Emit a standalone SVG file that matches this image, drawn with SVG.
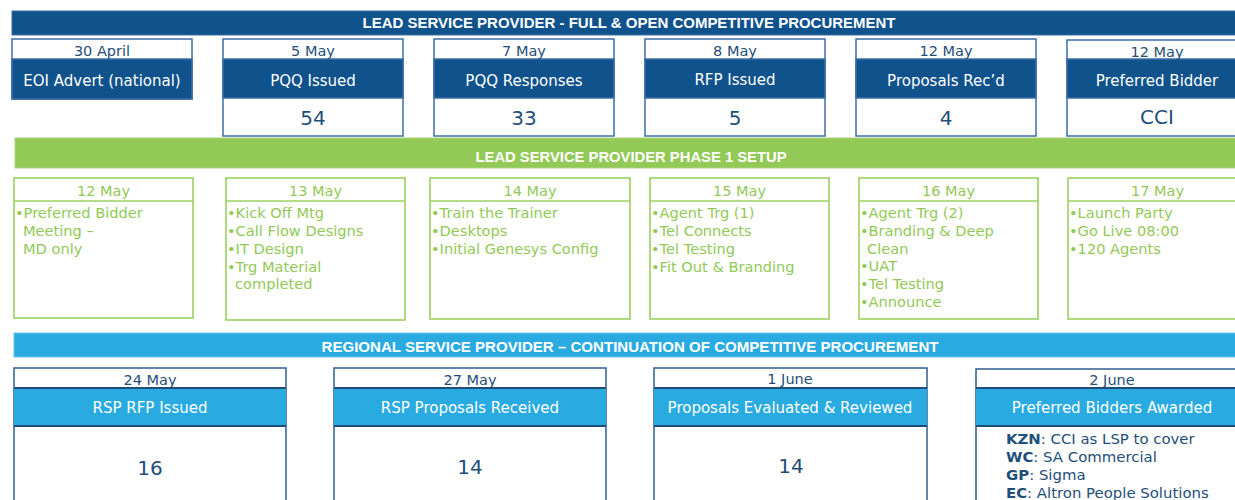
<svg xmlns="http://www.w3.org/2000/svg" width="1235" height="500" viewBox="0 0 1235 500">
  <style>
    .bg { fill: #ffffff; }
    .band-text { font-family: "Liberation Sans", Arial, sans-serif; font-weight: bold; font-size: 14px; fill: #ffffff; text-anchor: middle; }
    .t { font-family: "DejaVu Sans", Verdana, sans-serif; }
    /* lead procurement row */
    .lp-box { fill: #ffffff; stroke: #3d6ea6; stroke-width: 1.5; }
    .lp-hdr { fill: #10528c; stroke: #3d6ea6; stroke-width: 1.5; }
    .lp-date { font-size: 14.5px; fill: #1f4e79; text-anchor: middle; }
    .lp-title { font-size: 15px; fill: #ffffff; text-anchor: middle; }
    .lp-num { font-size: 20px; fill: #1f4e79; text-anchor: middle; }
    /* setup row */
    .su-box { fill: #ffffff; stroke: #9bd062; stroke-width: 1.6; }
    .su-date { font-size: 14.5px; fill: #92c957; text-anchor: middle; }
    .su-list { font-size: 14.6px; fill: #92c957; }
    /* regional row */
    .rp-box { fill: #ffffff; stroke: #2f5d93; stroke-width: 1.5; }
    .rp-hdr { fill: #29abe2; }
    .rp-rule { stroke: #1f4e79; stroke-width: 2; }
    .rp-date { font-size: 14.5px; fill: #1f4e79; text-anchor: middle; }
    .rp-title { font-size: 15px; fill: #ffffff; text-anchor: middle; }
    .rp-num { font-size: 20px; fill: #1f4e79; text-anchor: middle; }
    .rp-list { font-size: 14.9px; fill: #1f4e79; }
    .b { font-weight: bold; }
  </style>

  <rect class="bg" x="0" y="0" width="1235" height="500"/>

  <!-- ===== Lead service provider: procurement ===== -->
  <g id="band-lead-procurement">
    <rect x="12" y="11" width="1230" height="24" fill="#10528c" stroke="#3d6ea6" stroke-width="1"/>
    <text class="band-text" x="629" y="28" textLength="533" lengthAdjust="spacingAndGlyphs">LEAD SERVICE PROVIDER - FULL &amp; OPEN COMPETITIVE PROCUREMENT</text>
  </g>

  <g id="eoi-advert" class="t">
    <rect class="lp-box" x="12" y="39" width="180" height="60"/>
    <rect class="lp-hdr" x="12" y="59" width="180" height="40"/>
    <text class="lp-date" x="102" y="56">30 April</text>
    <text class="lp-title" x="102" y="86">EOI Advert (national)</text>
  </g>

  <g id="pqq-issued" class="t">
    <rect class="lp-box" x="223" y="39" width="180" height="97"/>
    <rect class="lp-hdr" x="223" y="59" width="180" height="39"/>
    <text class="lp-date" x="313" y="56">5 May</text>
    <text class="lp-title" x="313" y="86">PQQ Issued</text>
    <text class="lp-num" x="313" y="125">54</text>
  </g>

  <g id="pqq-responses" class="t">
    <rect class="lp-box" x="434" y="39" width="180" height="97"/>
    <rect class="lp-hdr" x="434" y="59" width="180" height="39"/>
    <text class="lp-date" x="524" y="56">7 May</text>
    <text class="lp-title" x="524" y="86">PQQ Responses</text>
    <text class="lp-num" x="524" y="125">33</text>
  </g>

  <g id="rfp-issued" class="t">
    <rect class="lp-box" x="645" y="39" width="180" height="97"/>
    <rect class="lp-hdr" x="645" y="59" width="180" height="39"/>
    <text class="lp-date" x="735" y="56">8 May</text>
    <text class="lp-title" x="735" y="85">RFP Issued</text>
    <text class="lp-num" x="735" y="125">5</text>
  </g>

  <g id="proposals-recd" class="t">
    <rect class="lp-box" x="856" y="39" width="180" height="97"/>
    <rect class="lp-hdr" x="856" y="59" width="180" height="39"/>
    <text class="lp-date" x="946" y="56">12 May</text>
    <text class="lp-title" x="946" y="86">Proposals Rec’d</text>
    <text class="lp-num" x="946" y="125">4</text>
  </g>

  <g id="preferred-bidder" class="t">
    <rect class="lp-box" x="1067" y="40" width="180" height="96"/>
    <rect class="lp-hdr" x="1067" y="59" width="180" height="39"/>
    <text class="lp-date" x="1157" y="57">12 May</text>
    <text class="lp-title" x="1157" y="86">Preferred Bidder</text>
    <text class="lp-num" x="1157" y="124">CCI</text>
  </g>

  <!-- ===== Lead service provider: phase 1 setup ===== -->
  <g id="band-phase1-setup">
    <rect x="15" y="138" width="1225" height="30" fill="#92c957" stroke="#a9d57a" stroke-width="1"/>
    <text class="band-text" x="631" y="162" textLength="311" lengthAdjust="spacingAndGlyphs">LEAD SERVICE PROVIDER PHASE 1 SETUP</text>
  </g>

  <g id="setup-12-may" class="t">
    <rect class="su-box" x="14" y="178" width="179" height="140"/>
    <line class="su-box" x1="14" y1="201" x2="193" y2="201"/>
    <text class="su-date" x="103.5" y="196">12 May</text>
    <text class="su-list">
      <tspan x="15" y="218">•Preferred Bidder</tspan>
      <tspan x="23" y="236">Meeting –</tspan>
      <tspan x="23" y="254">MD only</tspan>
    </text>
  </g>

  <g id="setup-13-may" class="t">
    <rect class="su-box" x="226" y="178" width="179" height="142"/>
    <line class="su-box" x1="226" y1="201" x2="405" y2="201"/>
    <text class="su-date" x="315.5" y="196">13 May</text>
    <text class="su-list">
      <tspan x="227" y="218">•Kick Off Mtg</tspan>
      <tspan x="227" y="236">•Call Flow Designs</tspan>
      <tspan x="227" y="254">•IT Design</tspan>
      <tspan x="227" y="272">•Trg Material</tspan>
      <tspan x="235" y="289">completed</tspan>
    </text>
  </g>

  <g id="setup-14-may" class="t">
    <rect class="su-box" x="430" y="178" width="200" height="141"/>
    <line class="su-box" x1="430" y1="201" x2="630" y2="201"/>
    <text class="su-date" x="530" y="196">14 May</text>
    <text class="su-list">
      <tspan x="431" y="218">•Train the Trainer</tspan>
      <tspan x="431" y="236">•Desktops</tspan>
      <tspan x="431" y="254">•Initial Genesys Config</tspan>
    </text>
  </g>

  <g id="setup-15-may" class="t">
    <rect class="su-box" x="650" y="178" width="179" height="141"/>
    <line class="su-box" x1="650" y1="201" x2="829" y2="201"/>
    <text class="su-date" x="739.5" y="196">15 May</text>
    <text class="su-list">
      <tspan x="651" y="218">•Agent Trg (1)</tspan>
      <tspan x="651" y="236">•Tel Connects</tspan>
      <tspan x="651" y="254">•Tel Testing</tspan>
      <tspan x="651" y="272">•Fit Out &amp; Branding</tspan>
    </text>
  </g>

  <g id="setup-16-may" class="t">
    <rect class="su-box" x="859" y="178" width="179" height="141"/>
    <line class="su-box" x1="859" y1="201" x2="1038" y2="201"/>
    <text class="su-date" x="948.5" y="196">16 May</text>
    <text class="su-list">
      <tspan x="860" y="218">•Agent Trg (2)</tspan>
      <tspan x="860" y="236">•Branding &amp; Deep</tspan>
      <tspan x="867" y="254">Clean</tspan>
      <tspan x="860" y="271">•UAT</tspan>
      <tspan x="860" y="289">•Tel Testing</tspan>
      <tspan x="860" y="307">•Announce</tspan>
    </text>
  </g>

  <g id="setup-17-may" class="t">
    <rect class="su-box" x="1068" y="178" width="179" height="141"/>
    <line class="su-box" x1="1068" y1="201" x2="1247" y2="201"/>
    <text class="su-date" x="1157.5" y="196">17 May</text>
    <text class="su-list">
      <tspan x="1069" y="218">•Launch Party</tspan>
      <tspan x="1069" y="236">•Go Live 08:00</tspan>
      <tspan x="1069" y="254">•120 Agents</tspan>
    </text>
  </g>

  <!-- ===== Regional service provider ===== -->
  <g id="band-regional">
    <rect x="14" y="333" width="1226" height="24" fill="#29abe2" stroke="#6cc4ea" stroke-width="1"/>
    <text class="band-text" x="630" y="352" textLength="617" lengthAdjust="spacingAndGlyphs">REGIONAL SERVICE PROVIDER – CONTINUATION OF COMPETITIVE PROCUREMENT</text>
  </g>

  <g id="rsp-rfp-issued" class="t">
    <rect class="rp-box" x="14" y="368" width="272" height="140"/>
    <rect class="rp-hdr" x="14" y="388" width="272" height="38"/>
    <line class="rp-rule" x1="14" y1="388" x2="286" y2="388"/>
    <line class="rp-rule" x1="14" y1="426" x2="286" y2="426"/>
    <text class="rp-date" x="150" y="385">24 May</text>
    <text class="rp-title" x="150" y="413">RSP RFP Issued</text>
    <text class="rp-num" x="150" y="475">16</text>
  </g>

  <g id="rsp-proposals-received" class="t">
    <rect class="rp-box" x="334" y="368" width="272" height="140"/>
    <rect class="rp-hdr" x="334" y="388" width="272" height="38"/>
    <line class="rp-rule" x1="334" y1="388" x2="606" y2="388"/>
    <line class="rp-rule" x1="334" y1="426" x2="606" y2="426"/>
    <text class="rp-date" x="470" y="385">27 May</text>
    <text class="rp-title" x="470" y="413">RSP Proposals Received</text>
    <text class="rp-num" x="470" y="474">14</text>
  </g>

  <g id="proposals-evaluated" class="t">
    <rect class="rp-box" x="654" y="368" width="273" height="140"/>
    <rect class="rp-hdr" x="654" y="388" width="273" height="38"/>
    <line class="rp-rule" x1="654" y1="388" x2="927" y2="388"/>
    <line class="rp-rule" x1="654" y1="426" x2="927" y2="426"/>
    <text class="rp-date" x="790" y="384">1 June</text>
    <text class="rp-title" x="790" y="413">Proposals Evaluated &amp; Reviewed</text>
    <text class="rp-num" x="791" y="473">14</text>
  </g>

  <g id="preferred-bidders-awarded" class="t">
    <rect class="rp-box" x="976" y="369" width="272" height="140"/>
    <rect class="rp-hdr" x="976" y="388" width="272" height="38"/>
    <line class="rp-rule" x1="976" y1="388" x2="1248" y2="388"/>
    <line class="rp-rule" x1="976" y1="426" x2="1248" y2="426"/>
    <text class="rp-date" x="1112" y="385">2 June</text>
    <text class="rp-title" x="1112" y="413">Preferred Bidders Awarded</text>
    <text class="rp-list">
      <tspan x="1006" y="444"><tspan class="b">KZN</tspan>: CCI as LSP to cover</tspan>
      <tspan x="1006" y="462"><tspan class="b">WC</tspan>: SA Commercial</tspan>
      <tspan x="1006" y="480"><tspan class="b">GP</tspan>: Sigma</tspan>
      <tspan x="1006" y="498"><tspan class="b">EC</tspan>: Altron People Solutions</tspan>
    </text>
  </g>
</svg>
